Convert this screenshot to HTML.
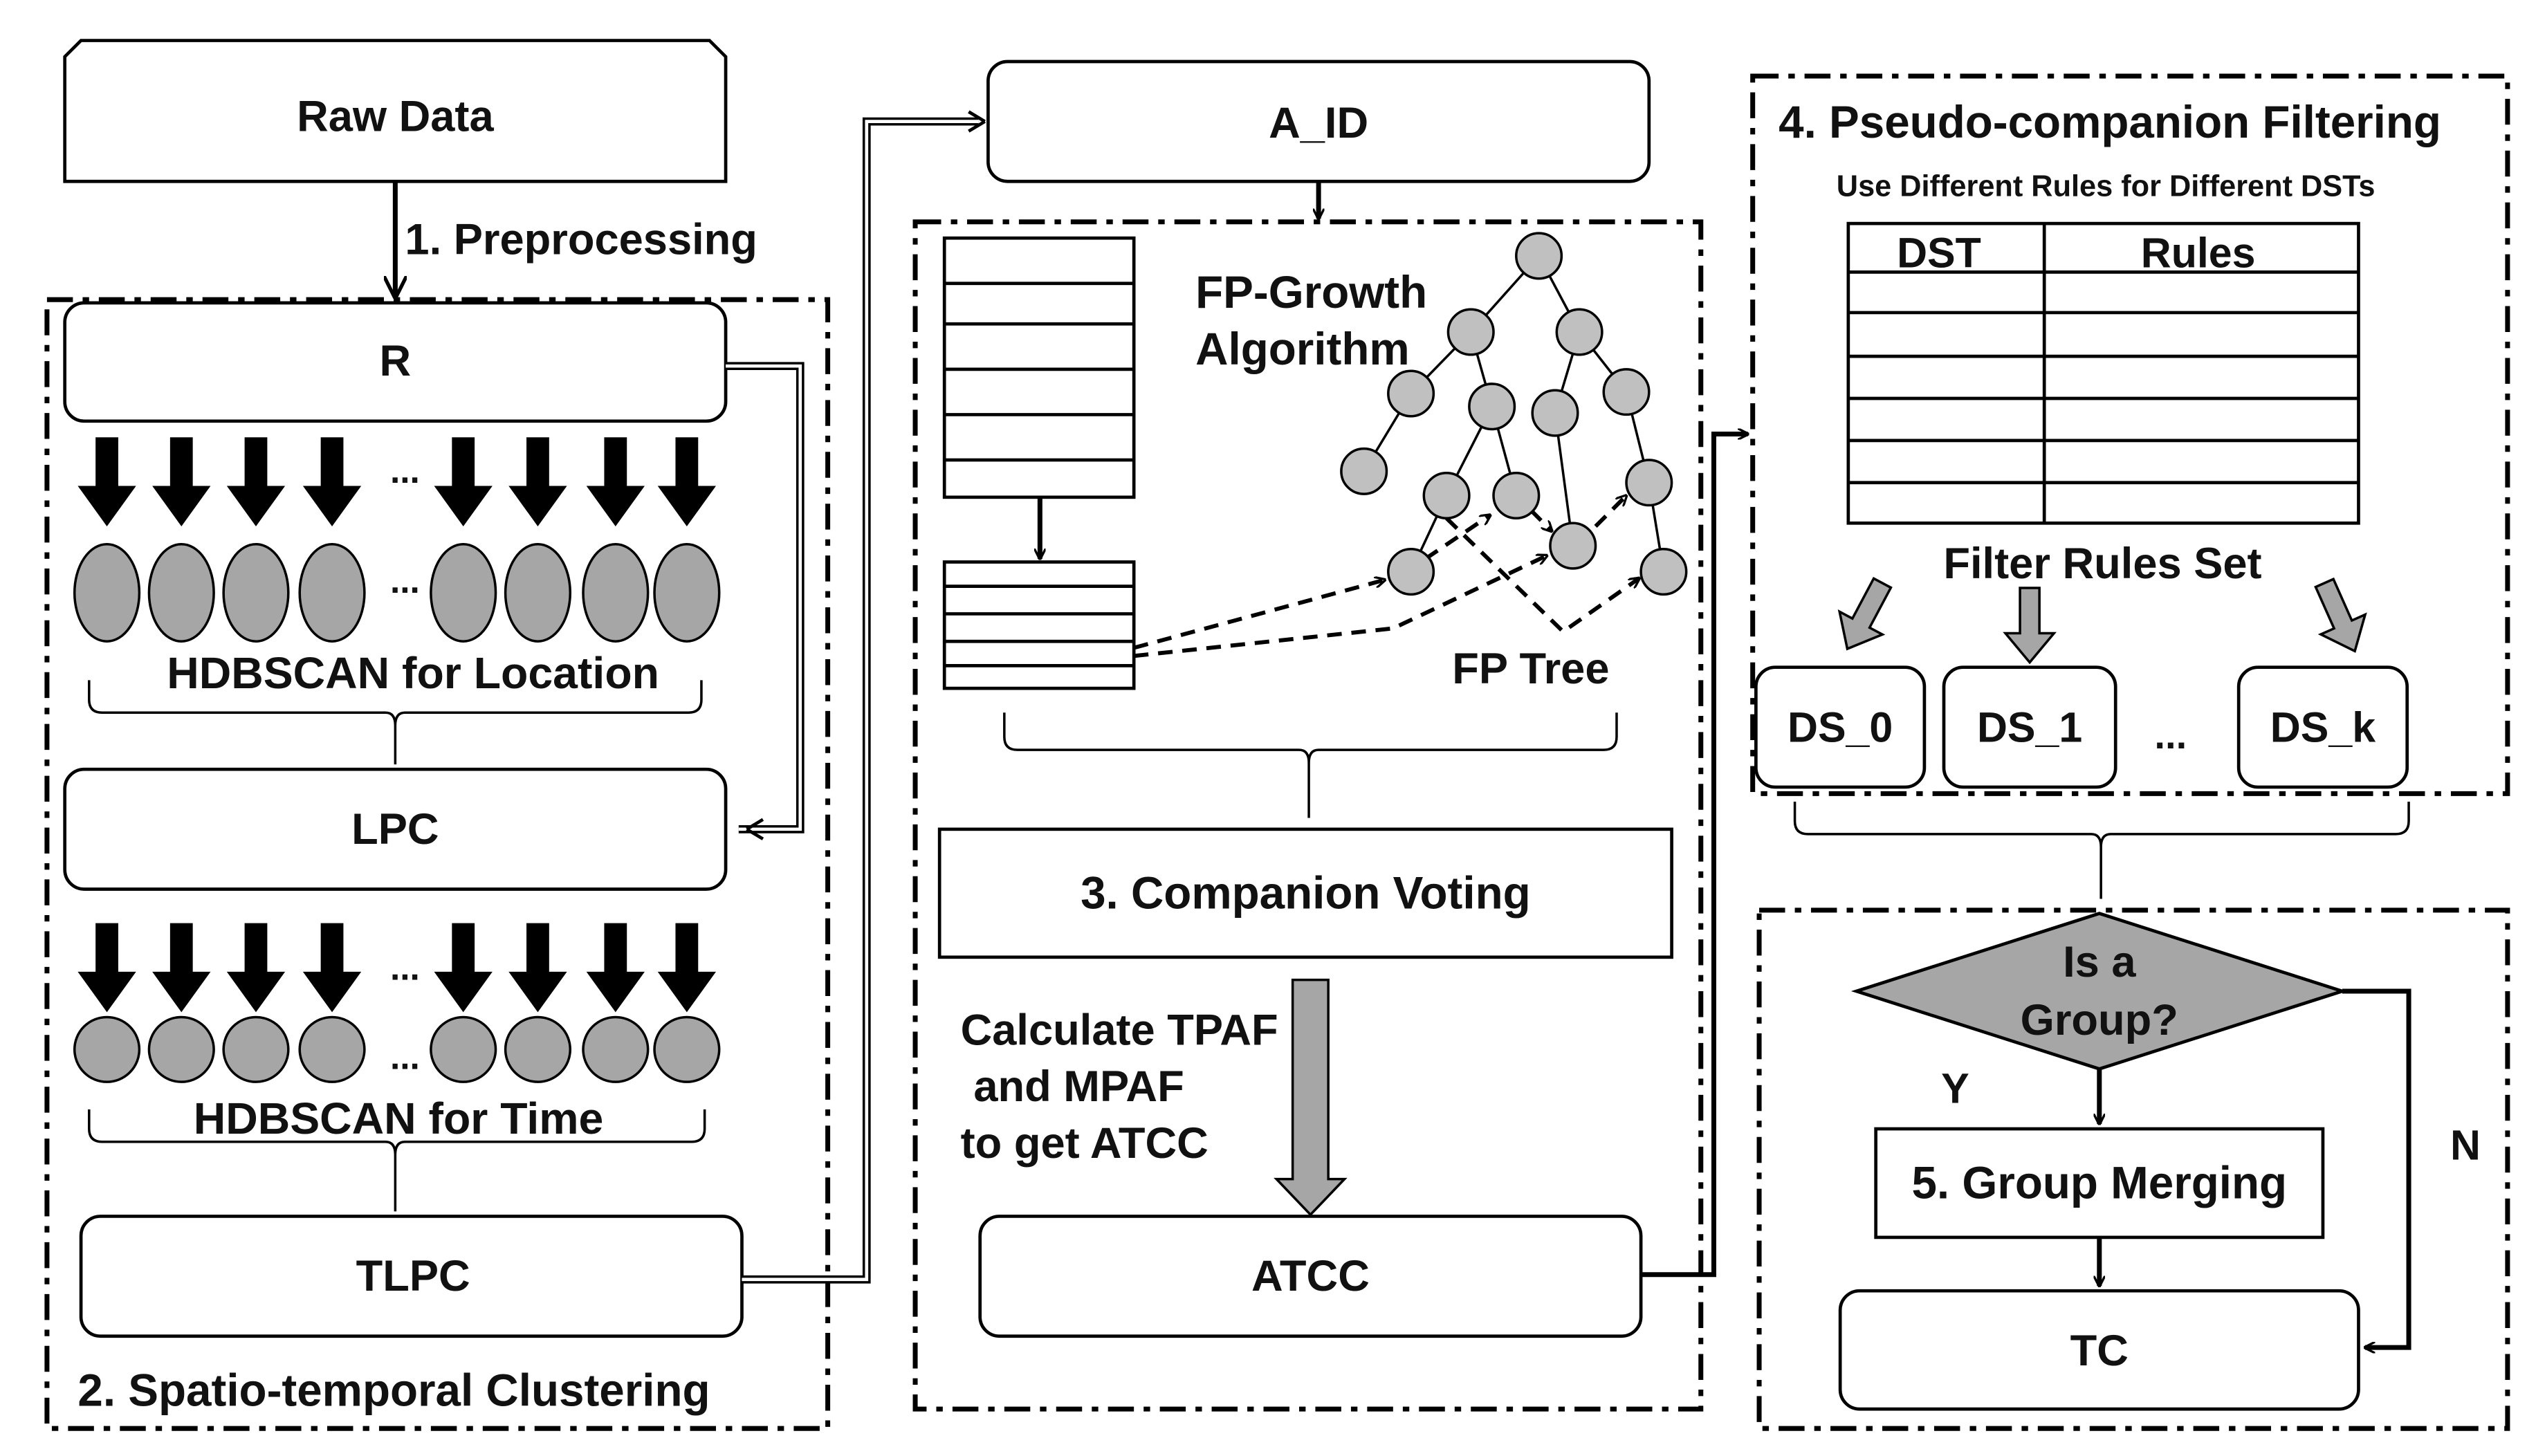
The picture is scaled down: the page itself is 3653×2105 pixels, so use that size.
<!DOCTYPE html>
<html><head><meta charset="utf-8"><style>
html,body{margin:0;padding:0;background:#fff;}
svg{display:block;}
text{font-family:"Liberation Sans","Noto Sans CJK SC",sans-serif;font-weight:bold;fill:#111;}
</style></head><body>
<svg width="3653" height="2105" viewBox="0 0 1560 899" preserveAspectRatio="none" xmlns="http://www.w3.org/2000/svg">
<defs>
<marker id="ah" viewBox="0 0 10 10" refX="9" refY="5" markerWidth="7" markerHeight="7" orient="auto" markerUnits="userSpaceOnUse">
<path d="M0,0 L10,5 L0,10" fill="none" stroke="#000" stroke-width="2"/>
</marker>
<marker id="ah2" viewBox="0 0 10 10" refX="9" refY="5" markerWidth="14" markerHeight="14" orient="auto" markerUnits="userSpaceOnUse">
<path d="M0,0 L10,5 L0,10" fill="none" stroke="#000" stroke-width="1.6"/>
</marker>
</defs>
<g fill="none" stroke="#000" stroke-width="3" stroke-dasharray="16 6 4 6">
<rect x="29" y="185" width="482" height="697"/>
<rect x="565" y="137" width="485" height="733"/>
<rect x="1082" y="47" width="466" height="443"/>
<rect x="1086" y="562" width="462" height="320"/>
</g>
<polygon points="50,25 438,25 448,35 448,112 40,112 40,35" fill="#fff" stroke="#000" stroke-width="2"/>
<text x="244" y="81" font-size="27" text-anchor="middle">Raw Data</text>
<line x1="244" y1="112" x2="244" y2="183" stroke="#000" stroke-width="3" marker-end="url(#ah2)"/>
<text x="250" y="157" font-size="27">1. Preprocessing</text>
<g fill="#fff" stroke="#000" stroke-width="2">
<rect x="40" y="187" width="408" height="73" rx="12"/>
<rect x="40" y="475" width="408" height="74" rx="12"/>
<rect x="50" y="751" width="408" height="74" rx="12"/>
<rect x="610" y="38" width="408" height="74" rx="12"/>
<rect x="580" y="512" width="452" height="79"/>
<rect x="605" y="751" width="408" height="74" rx="12"/>
<rect x="1084" y="412" width="104" height="74" rx="12"/>
<rect x="1200" y="412" width="106" height="74" rx="12"/>
<rect x="1382" y="412" width="104" height="74" rx="12"/>
<rect x="1158" y="697" width="276" height="67"/>
<rect x="1136" y="797" width="320" height="73" rx="12"/>
</g>
<g font-size="27" text-anchor="middle">
<text x="244" y="232">R</text>
<text x="244" y="521">LPC</text>
<text x="255" y="797">TLPC</text>
<text x="814" y="85">A_ID</text>
<text x="806" y="561" font-size="28">3. Companion Voting</text>
<text x="809" y="797">ATCC</text>
<text x="1136" y="458" font-size="26">DS_0</text>
<text x="1253" y="458" font-size="26">DS_1</text>
<text x="1340" y="462" font-size="24">...</text>
<text x="1434" y="458" font-size="26">DS_k</text>
<text x="1296" y="740" font-size="28">5. Group Merging</text>
<text x="1296" y="843">TC</text>
</g>
<g fill="none">
<path d="M448,226 H494 V512 H456" stroke="#000" stroke-width="5"/>
<path d="M448,226 H494 V512 H456" stroke="#fff" stroke-width="2"/>
<path d="M458,790 H535 V75 H604" stroke="#000" stroke-width="5"/>
<path d="M458,790 H535 V75 H604" stroke="#fff" stroke-width="2"/>
<path d="M461,512 l10,-6 M461,512 l10,6" stroke="#000" stroke-width="2"/>
<path d="M608,75 l-10,-6 M608,75 l-10,6" stroke="#000" stroke-width="2"/>
</g>
<g fill="#000">
<path id="ba" d="M-7,0 H7 V30 H18 L0,55 L-18,30 H-7 Z" transform="translate(66,270)"/>
<use href="#ba" x="46"/><use href="#ba" x="92"/><use href="#ba" x="139"/>
<use href="#ba" x="220"/><use href="#ba" x="266"/><use href="#ba" x="314"/><use href="#ba" x="358"/>
<use href="#ba" y="300"/><use href="#ba" x="46" y="300"/><use href="#ba" x="92" y="300"/><use href="#ba" x="139" y="300"/>
<use href="#ba" x="220" y="300"/><use href="#ba" x="266" y="300"/><use href="#ba" x="314" y="300"/><use href="#ba" x="358" y="300"/>
</g>
<g font-size="22" text-anchor="middle">
<text x="250" y="298">...</text><text x="250" y="366">...</text>
<text x="250" y="605">...</text><text x="250" y="660">...</text>
</g>
<g fill="#a6a6a6" stroke="#000" stroke-width="1.5">
<ellipse cx="66" cy="366" rx="20" ry="30"/><ellipse cx="112" cy="366" rx="20" ry="30"/><ellipse cx="158" cy="366" rx="20" ry="30"/><ellipse cx="205" cy="366" rx="20" ry="30"/>
<ellipse cx="286" cy="366" rx="20" ry="30"/><ellipse cx="332" cy="366" rx="20" ry="30"/><ellipse cx="380" cy="366" rx="20" ry="30"/><ellipse cx="424" cy="366" rx="20" ry="30"/>
<circle cx="66" cy="648" r="20"/><circle cx="112" cy="648" r="20"/><circle cx="158" cy="648" r="20"/><circle cx="205" cy="648" r="20"/>
<circle cx="286" cy="648" r="20"/><circle cx="332" cy="648" r="20"/><circle cx="380" cy="648" r="20"/><circle cx="424" cy="648" r="20"/>
</g>
<text x="255" y="425" font-size="27.5" text-anchor="middle">HDBSCAN for Location</text>
<text x="246" y="700" font-size="27.5" text-anchor="middle">HDBSCAN for Time</text>
<text x="48" y="868" font-size="28">2. Spatio-temporal Clustering</text>
<g fill="none" stroke="#000" stroke-width="1.5">
<path d="M55,420 V432 Q55,440 63,440 H238 Q244,440 244,448 V472 M244,448 Q244,440 250,440 H425 Q433,440 433,432 V420"/>
<path d="M55,685 V697 Q55,705 63,705 H238 Q244,705 244,713 V748 M244,713 Q244,705 250,705 H427 Q435,705 435,697 V685"/>
<path d="M620,440 V455 Q620,463 628,463 H802 Q808,463 808,471 V505 M808,471 Q808,463 814,463 H990 Q998,463 998,455 V440"/>
<path d="M1108,495 V507 Q1108,515 1116,515 H1291 Q1297,515 1297,523 V555 M1297,523 Q1297,515 1303,515 H1479 Q1487,515 1487,507 V495"/>
</g>
<line x1="814" y1="112" x2="814" y2="135" stroke="#000" stroke-width="3" marker-end="url(#ah)"/>
<g fill="#fff" stroke="#000" stroke-width="2">
<rect x="583" y="147" width="117" height="160"/>
<rect x="583" y="347" width="117" height="78"/>
</g>
<g stroke="#000" stroke-width="2">
<line x1="583" y1="175" x2="700" y2="175"/><line x1="583" y1="200" x2="700" y2="200"/><line x1="583" y1="228" x2="700" y2="228"/><line x1="583" y1="256" x2="700" y2="256"/><line x1="583" y1="284" x2="700" y2="284"/>
<line x1="583" y1="362" x2="700" y2="362"/><line x1="583" y1="379" x2="700" y2="379"/><line x1="583" y1="396" x2="700" y2="396"/><line x1="583" y1="411" x2="700" y2="411"/>
</g>
<line x1="642" y1="307" x2="642" y2="345" stroke="#000" stroke-width="3" marker-end="url(#ah)"/>
<text x="738" y="190" font-size="28">FP-Growth</text>
<text x="738" y="225" font-size="28">Algorithm</text>
<g stroke="#000" stroke-width="1.5">
<line x1="950" y1="158" x2="908" y2="205"/><line x1="950" y1="158" x2="975" y2="205"/>
<line x1="908" y1="205" x2="871" y2="243"/><line x1="908" y1="205" x2="921" y2="251"/>
<line x1="871" y1="243" x2="842" y2="291"/><line x1="921" y1="251" x2="893" y2="306"/><line x1="921" y1="251" x2="936" y2="306"/>
<line x1="893" y1="306" x2="871" y2="353"/><line x1="975" y1="205" x2="960" y2="255"/><line x1="975" y1="205" x2="1004" y2="242"/>
<line x1="960" y1="255" x2="971" y2="337"/><line x1="1004" y1="242" x2="1018" y2="298"/><line x1="1018" y1="298" x2="1027" y2="353"/>
</g>
<g fill="none" stroke="#000" stroke-width="2.5" stroke-dasharray="9 6">
<line x1="700" y1="400" x2="855" y2="358" marker-end="url(#ah)"/>
<path d="M700,405 L860,388 L955,343" marker-end="url(#ah)"/>
<line x1="880" y1="345" x2="920" y2="318" marker-end="url(#ah)"/>
<line x1="945" y1="315" x2="958" y2="328" marker-end="url(#ah)"/>
<line x1="985" y1="325" x2="1004" y2="306" marker-end="url(#ah)"/>
<path d="M893,320 L965,390 L1012,357" marker-end="url(#ah)"/>
</g>
<g fill="#c0c0c0" stroke="#000" stroke-width="1.5">
<circle cx="950" cy="158" r="14"/><circle cx="908" cy="205" r="14"/><circle cx="975" cy="205" r="14"/>
<circle cx="871" cy="243" r="14"/><circle cx="921" cy="251" r="14"/><circle cx="960" cy="255" r="14"/><circle cx="1004" cy="242" r="14"/>
<circle cx="842" cy="291" r="14"/><circle cx="893" cy="306" r="14"/><circle cx="936" cy="306" r="14"/><circle cx="971" cy="337" r="14"/><circle cx="1018" cy="298" r="14"/>
<circle cx="871" cy="353" r="14"/><circle cx="1027" cy="353" r="14"/>
</g>
<text x="945" y="422" font-size="27" text-anchor="middle">FP Tree</text>
<path d="M798,605 H820 V728 H830 L809,750 L788,728 H798 Z" fill="#a6a6a6" stroke="#000" stroke-width="1.5"/>
<text x="593" y="645" font-size="27">Calculate TPAF</text>
<text x="601" y="680" font-size="27">and MPAF</text>
<text x="593" y="715" font-size="27">to get ATCC</text>
<path d="M1013,787 H1058 V268 H1079" fill="none" stroke="#000" stroke-width="3" marker-end="url(#ah)"/>
<text x="1098" y="85" font-size="28">4. Pseudo-companion Filtering</text>
<text x="1300" y="121" font-size="18.5" text-anchor="middle">Use Different Rules for Different DSTs</text>
<rect x="1141" y="138" width="315" height="185" fill="#fff" stroke="#000" stroke-width="2"/>
<g stroke="#000" stroke-width="2">
<line x1="1262" y1="138" x2="1262" y2="323"/>
<line x1="1141" y1="168" x2="1456" y2="168"/><line x1="1141" y1="193" x2="1456" y2="193"/><line x1="1141" y1="220" x2="1456" y2="220"/>
<line x1="1141" y1="246" x2="1456" y2="246"/><line x1="1141" y1="272" x2="1456" y2="272"/><line x1="1141" y1="298" x2="1456" y2="298"/>
</g>
<text x="1197" y="165" font-size="26" text-anchor="middle">DST</text>
<text x="1357" y="165" font-size="26" text-anchor="middle">Rules</text>
<text x="1298" y="357" font-size="27" text-anchor="middle">Filter Rules Set</text>
<g fill="#a6a6a6" stroke="#000" stroke-width="1.5">
<path d="M-6,0 H6 V28 H15 L0,46 L-15,28 H-6 Z" transform="translate(1253,363)"/>
<path d="M-6,0 H6 V28 H15 L0,46 L-15,28 H-6 Z" transform="translate(1162,360) rotate(28)"/>
<path d="M-6,0 H6 V28 H15 L0,46 L-15,28 H-6 Z" transform="translate(1435,360) rotate(-24)"/>
</g>
<polygon points="1146,612 1296,564 1446,612 1296,660" fill="#a6a6a6" stroke="#000" stroke-width="2"/>
<text x="1296" y="603" font-size="27" text-anchor="middle">Is a</text>
<text x="1296" y="639" font-size="27" text-anchor="middle">Group?</text>
<line x1="1296" y1="660" x2="1296" y2="694" stroke="#000" stroke-width="3" marker-end="url(#ah)"/>
<line x1="1296" y1="764" x2="1296" y2="794" stroke="#000" stroke-width="3" marker-end="url(#ah)"/>
<text x="1207" y="681" font-size="26" text-anchor="middle">Y</text>
<path d="M1446,612 H1487 V832 H1460" fill="none" stroke="#000" stroke-width="3" marker-end="url(#ah)"/>
<text x="1522" y="716" font-size="26" text-anchor="middle">N</text>
</svg>
</body></html>
